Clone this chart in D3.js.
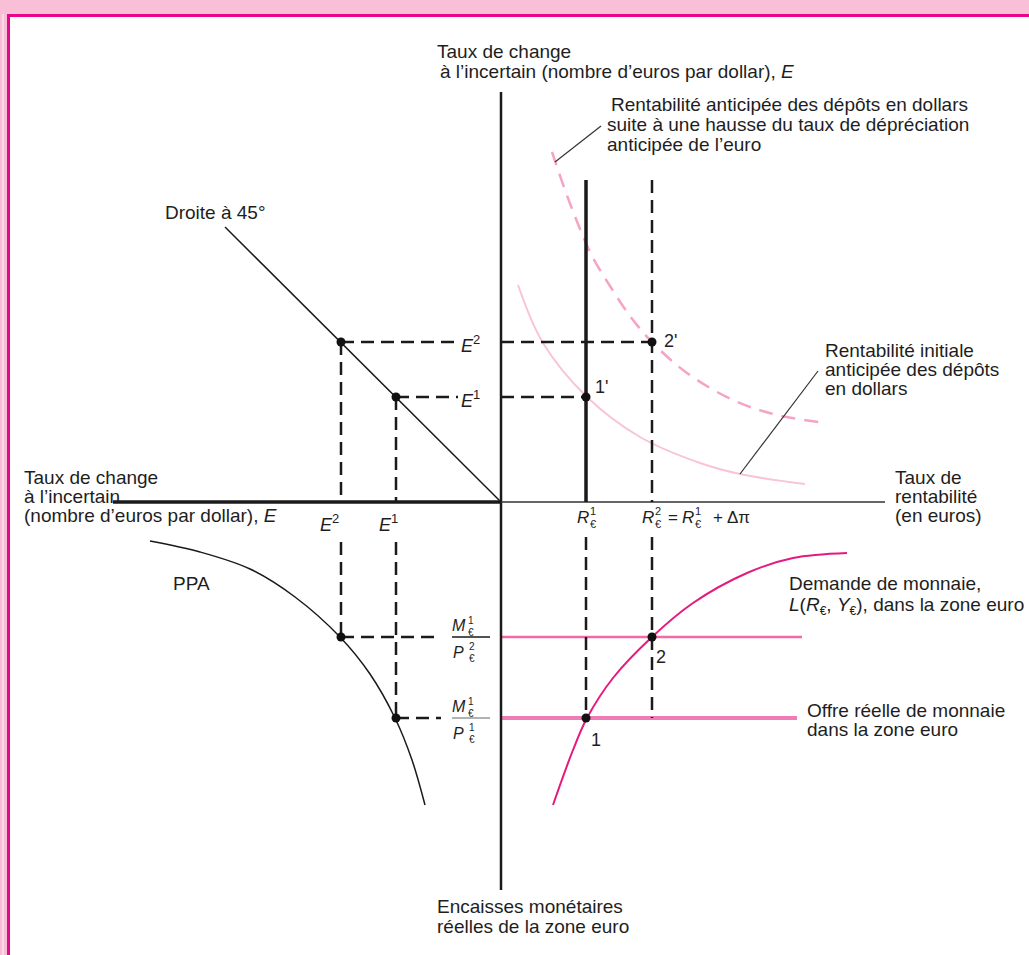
<!DOCTYPE html>
<html><head><meta charset="utf-8">
<script src="https://cdn.jsdelivr.net/npm/d3@7"></script>
<style>
body{margin:0;background:#fff;}
text{font-family:"Liberation Sans",Arial,Helvetica,sans-serif;fill:#1e1e1e;}
</style></head>
<body>
<svg id="c" width="1029" height="955"></svg>
<script>
// ---- data (units: x right of origin, y above origin) ----
const E1 = 105, E2 = 160;          // exchange-rate levels
const R1 = 85, R2 = 151;           // euro interest rates
const MP1 = -216, MP2 = -135;      // real money supply levels (below axis)
const initialReturn = [[17,217],[42,159],[86,105],[139,65],[199,39],[239,28],[304,18]];
const shiftedReturn = [[51,350],[64,312],[77,278],[91,246],[109,216],[129,186],[151,160],[186,129],[232,102],[276,87],[326,79]];
const moneyDemand = [[52,-303],[72,-248],[86,-216],[112,-176],[151,-135],[192,-101],[246,-71],[292,-56],[346,-51]];
const ppa = [[-351,-39],[-301,-50],[-251,-67],[-206,-95],[-161,-135],[-131,-172],[-106,-216],[-89,-258],[-76,-303]];
const line45 = [[-276,275],[0,0]];

const svg = d3.select("#c");
const x = d3.scaleLinear().domain([-400,400]).range([101,901]);
const y = d3.scaleLinear().domain([-400,420]).range([902,82]);
const line = d3.line().x(d=>x(d[0])).y(d=>y(d[1])).curve(d3.curveCatmullRom);

// frame
svg.append("rect").attr("x",0).attr("y",0).attr("width",1029).attr("height",14).attr("fill","#f8bfd6");
svg.append("rect").attr("x",0).attr("y",0).attr("width",7).attr("height",955).attr("fill","#f8bfd6");
svg.append("rect").attr("x",2).attr("y",14).attr("width",2).attr("height",941).attr("fill","#fbd9e6");
svg.append("line").attr("x1",8).attr("x2",1029).attr("y1",15.5).attr("y2",15.5).attr("stroke","#e8068a").attr("stroke-width",3);
svg.append("line").attr("x1",8.5).attr("x2",8.5).attr("y1",14).attr("y2",955).attr("stroke","#e8068a").attr("stroke-width",3);

const dash = "13,7";
function seg(x1,y1,x2,y2,opt){
  const l = svg.append("line").attr("x1",x(x1)).attr("y1",y(y1)).attr("x2",x(x2)).attr("y2",y(y2))
    .attr("stroke",opt.c||"#1a1a1a").attr("stroke-width",opt.w||2);
  if(opt.d) l.attr("stroke-dasharray",opt.d);
  return l;
}

// pink horizontal money supply lines
seg(0,MP2,301,MP2,{c:"#f06aa6",w:2.5});
seg(0,MP1,296,MP1,{c:"#f07cb5",w:4});

// curves
svg.append("path").attr("d",line(initialReturn)).attr("fill","none").attr("stroke","#f9c4d8").attr("stroke-width",2);
svg.append("path").attr("d",line(shiftedReturn)).attr("fill","none").attr("stroke","#f5a3c6").attr("stroke-width",2.5).attr("stroke-dasharray","14,9");
svg.append("path").attr("d",line(moneyDemand)).attr("fill","none").attr("stroke","#e5197e").attr("stroke-width",2);
svg.append("path").attr("d",line(ppa)).attr("fill","none").attr("stroke","#1a1a1a").attr("stroke-width",1.5);
svg.append("path").attr("d",d3.line().x(d=>x(d[0])).y(d=>y(d[1]))(line45)).attr("fill","none").attr("stroke","#1a1a1a").attr("stroke-width",1.5);

// axes
seg(0,410,0,-388,{w:2.5});
seg(-388,0,0,0,{w:3.5});
seg(0,0,384,0,{c:"#333",w:1.6});

// R1 thick vertical and dashed guides
seg(R1,322,R1,0,{w:3.5});
seg(R2,322,R2,0,{d:dash,w:2.5});
seg(R1,-35,R1,MP1,{d:dash,w:2.5});
seg(R2,-35,R2,MP1,{d:dash,w:2.5});
// horizontal dashes top
seg(-E2,E2,-43,E2,{d:dash,w:2.5});
seg(-E1,E1,-43,E1,{d:dash,w:2.5});
seg(0,E2,R2,E2,{d:dash,w:2.5});
seg(0,E1,R1,E1,{d:dash,w:2.5});
// vertical dashes left
seg(-E2,E2,-E2,0,{d:dash,w:2.5});
seg(-E1,E1,-E1,0,{d:dash,w:2.5});
seg(-E2,-40,-E2,MP2,{d:dash,w:2.5});
seg(-E1,-40,-E1,MP1,{d:dash,w:2.5});
// horizontal dashes bottom-left
seg(-E2,MP2,-60,MP2,{d:dash,w:2.5});
seg(-E1,MP1,-60,MP1,{d:dash,w:2.5});

// leader lines
seg(54,340,100,376,{c:"#333",w:1.2});
seg(239,28,317,131,{c:"#333",w:1.2});

// points
const pts = [[-E2,E2],[-E1,E1],[R1,E1],[R2,E2],[R1,MP1],[R2,MP2],[-E2,MP2],[-E1,MP1]];
svg.selectAll("circle.p").data(pts).enter().append("circle")
  .attr("cx",d=>x(d[0])).attr("cy",d=>y(d[1])).attr("r",4.5).attr("fill","#111");

// text helpers
function txt(px,py,s,opt={}){
  const t = svg.append("text").attr("x",px).attr("y",py).attr("font-size",opt.fs||19);
  if(opt.anchor) t.attr("text-anchor",opt.anchor);
  if(opt.it) t.attr("font-style","italic");
  t.text(s); return t;
}
function lines(px,py,arr,lh){ arr.forEach((s,i)=>txt(px,py+i*lh,s)); }

// top label
txt(437,58,"Taux de change");
const tt = txt(440,78,"à l’incertain (nombre d’euros par dollar), ");
tt.append("tspan").attr("font-style","italic").text("E");
// upper-right labels
txt(611,111,"Rentabilité anticipée des dépôts en dollars");
txt(607,131,"suite à une hausse du taux de dépréciation");
txt(607,151,"anticipée de l’euro");
lines(825,357,["Rentabilité initiale","anticipée des dépôts","en dollars"],19);
txt(165,219,"Droite à 45°");
// left axis label
lines(24,484,["Taux de change","à l’incertain"],19);
const lt = txt(24,522,"(nombre d’euros par dollar), ");
lt.append("tspan").attr("font-style","italic").text("E");
// right axis label
lines(895,484,["Taux de","rentabilité","(en euros)"],19);
txt(173,590,"PPA");
// money demand label
txt(789,590,"Demande de monnaie,");
const md = txt(789,611,"");
md.append("tspan").attr("font-style","italic").text("L");
md.append("tspan").text("(");
md.append("tspan").attr("font-style","italic").text("R");
md.append("tspan").attr("font-size",12).attr("dy",4).text("€");
md.append("tspan").attr("dy",-4).text(", ");
md.append("tspan").attr("font-style","italic").text("Y");
md.append("tspan").attr("font-size",12).attr("dy",4).text("€");
md.append("tspan").attr("dy",-4).text("), dans la zone euro");
lines(807,717,["Offre réelle de monnaie","dans la zone euro"],19);
lines(437,913,["Encaisses monétaires","réelles de la zone euro"],20);

// point labels
txt(595,393,"1'",{fs:18});
txt(664,347,"2'",{fs:18});
txt(656,663,"2",{fs:18});
txt(591,746,"1",{fs:18});

// E labels
function eLab(px,py,sup){
  const t = txt(px,py,"",{fs:18});
  t.append("tspan").attr("font-style","italic").text("E");
  t.append("tspan").attr("font-size",13).attr("dy",-8).text(sup);
}
eLab(461,y(E2)+10,"2"); eLab(461,y(E1)+10,"1");
eLab(x(-E2)-21,531,"2"); eLab(x(-E1)-17,531,"1");

// symbol with stacked superscript and € subscript, all in one text element
function sym(px,py,letter,fs,sup,off,upDy,gap,sfs){
  const t = txt(px,py,"",{fs:fs});
  t.append("tspan").attr("font-style","italic").text(letter);
  t.append("tspan").attr("font-size",sfs).attr("x",px+off).attr("dy",upDy).text(sup);
  t.append("tspan").attr("font-size",sfs).attr("x",px+off).attr("dy",gap).text("€");
  return t;
}
// R labels
sym(x(R1)-9,523,"R",17,"1",13,-8,13,11);
sym(x(R2)-10,523,"R",17,"2",13,-8,13,11);
txt(x(R2)+16,523,"=",{fs:17});
sym(x(R2)+30,523,"R",17,"1",13,-8,13,11);
txt(x(R2)+61,523,"+",{fs:17});
txt(x(R2)+75,523,"Δπ",{fs:17});

// fractions
function frac(py,den,barColor){
  const lx = 452;
  sym(lx,py-6,"M",16,"1",16,-7,12,10);
  svg.append("line").attr("x1",lx).attr("x2",lx+38).attr("y1",py).attr("y2",py).attr("stroke",barColor).attr("stroke-width",1.5);
  sym(lx+1,py+21,"P",16,den,16,-8,12,10);
}
frac(y(MP2),"2","#1a1a1a");
frac(y(MP1),"1","#999");
</script>
</body></html>
